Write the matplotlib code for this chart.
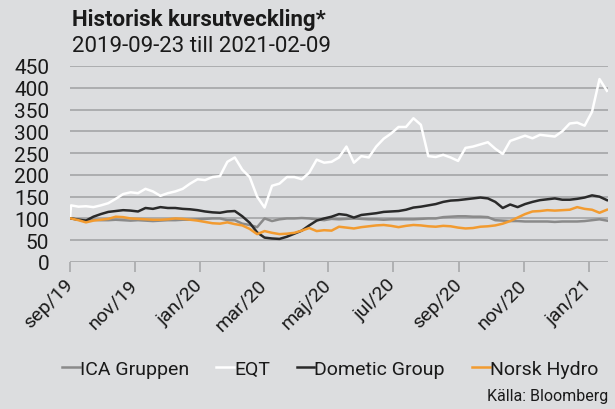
import matplotlib
matplotlib.use("Agg")
import matplotlib.pyplot as plt
import pandas as pd

# ---- data ----
start_date = "2019-09-23"
weekly_dates = pd.date_range("2019-09-24", "2021-02-09", freq="7D")
dates = [pd.Timestamp(start_date)] + list(weekly_dates)

ica = [100, 100, 98, 96, 97, 96, 96, 97, 96, 95, 96, 95, 94, 95, 96, 96, 97, 97, 98, 99,
       100, 100, 96, 96, 88, 85, 80, 100, 94, 98, 100, 100, 101, 100, 98, 96, 99, 98, 99, 100,
       99, 98, 98, 97, 98, 98, 98, 98, 99, 100, 100, 103, 104, 105, 105, 104, 104, 103, 96, 95,
       94, 94, 93, 93, 93, 93, 92, 93, 93, 93, 94, 96, 98, 95]
eqt = [100, 130, 127, 128, 126, 130, 135, 145, 156, 160, 158, 168, 162, 152, 158, 162, 168, 180, 190, 188,
       195, 197, 230, 240, 212, 195, 150, 125, 175, 180, 195, 195, 190, 205, 235, 228, 230, 240, 265, 228,
       243, 240, 265, 283, 295, 310, 310, 330, 315, 243, 241, 246, 240, 232, 262, 265, 270, 275, 260, 248,
       278, 284, 290, 284, 292, 290, 288, 300, 318, 320, 313, 345, 420, 393]
dometic = [100, 100, 97, 95, 104, 110, 115, 117, 119, 118, 116, 124, 122, 126, 124, 124, 122, 121, 119, 116,
           114, 113, 116, 117, 105, 90, 68, 56, 54, 53, 58, 65, 72, 84, 95, 100, 104, 110, 108, 102,
           108, 110, 112, 115, 116, 117, 120, 125, 127, 130, 133, 138, 141, 142, 144, 146, 148, 146, 138, 124,
           132, 126, 133, 138, 142, 144, 146, 143, 143, 145, 148, 153, 150, 142]
hydro = [100, 100, 96, 91, 95, 97, 99, 104, 103, 100, 99, 98, 97, 97, 98, 100, 99, 97, 95, 92,
         89, 88, 91, 87, 84, 76, 64, 71, 67, 64, 65, 67, 72, 78, 71, 73, 72, 81, 79, 77,
         80, 82, 84, 85, 83, 80, 83, 85, 84, 82, 81, 83, 82, 79, 77, 78, 81, 82, 84, 88,
         94, 102, 110, 116, 117, 119, 118, 119, 120, 126, 122, 120, 113, 120]

series_names = ["ICA Gruppen", "EQT", "Dometic Group", "Norsk Hydro"]
series_values = [ica, eqt, dometic, hydro]
series_colors = ["#8a8a8a", "#ffffff", "#2a2a2a", "#f29b30"]

tick_dates = ["2019-09-23", "2019-11-23", "2020-01-23", "2020-03-23", "2020-05-23",
              "2020-07-23", "2020-09-23", "2020-11-23", "2021-01-23"]
tick_labels = ["sep/19", "nov/19", "jan/20", "mar/20", "maj/20", "jul/20", "sep/20", "nov/20", "jan/21"]
y_ticks = [0, 50, 100, 150, 200, 250, 300, 350, 400, 450]

title = "Historisk kursutveckling*"
subtitle = "2019-09-23 till 2021-02-09"
source = "Källa: Bloomberg"

# ---- style ----
bg = "#dcdddf"
grid_c = "#a8a9ab"
plt.rcParams["font.family"] = ["Roboto", "DejaVu Sans"]
plt.rcParams["text.color"] = "#1a1a1a"

fig = plt.figure(figsize=(6.15, 4.10), dpi=100, facecolor=bg)
ax = fig.add_axes([70 / 615, 1 - 263 / 410, (608 - 70) / 615, (263 - 67) / 410])
ax.set_facecolor(bg)

for name, vals, col in zip(series_names, series_values, series_colors):
    ax.plot(dates, vals, color=col, lw=1.8, label=name, zorder=3)

ax.set_ylim(0, 450)
ax.set_xlim(pd.Timestamp("2019-09-23"), pd.Timestamp("2021-02-10"))
ax.set_yticks(y_ticks)
ax.yaxis.grid(True, color=grid_c, lw=1.3)
ax.set_axisbelow(True)
for s in ax.spines.values():
    s.set_visible(False)

ax.tick_params(axis="y", length=0, pad=15, labelsize=15, labelcolor="#1a1a1a")
ax.set_xticks([pd.Timestamp(d) for d in tick_dates])
ax.set_xticklabels(tick_labels, rotation=45, ha="right", va="center",
                   rotation_mode="anchor", fontsize=14, color="#1a1a1a")
ax.tick_params(axis="x", length=7, width=1.2, color=grid_c, pad=7)

fig.text(72 / 615, 1 - 20 / 410, title, fontsize=16, fontweight="bold", va="center", ha="left")
fig.text(72 / 615, 1 - 47 / 410, subtitle, fontsize=16, va="center", ha="left")

leg = fig.legend(loc="center", bbox_to_anchor=(0.537, 1 - 370 / 410), ncol=4, frameon=False,
                 fontsize=14, handlelength=0.9, handletextpad=0.0, columnspacing=1.4)
for line in leg.get_lines():
    line.set_linewidth(1.8)

fig.text(608 / 615, 1 - 397 / 410, source, fontsize=11.5, ha="right", va="center")

fig.savefig("out.png", dpi=100, facecolor=bg)
